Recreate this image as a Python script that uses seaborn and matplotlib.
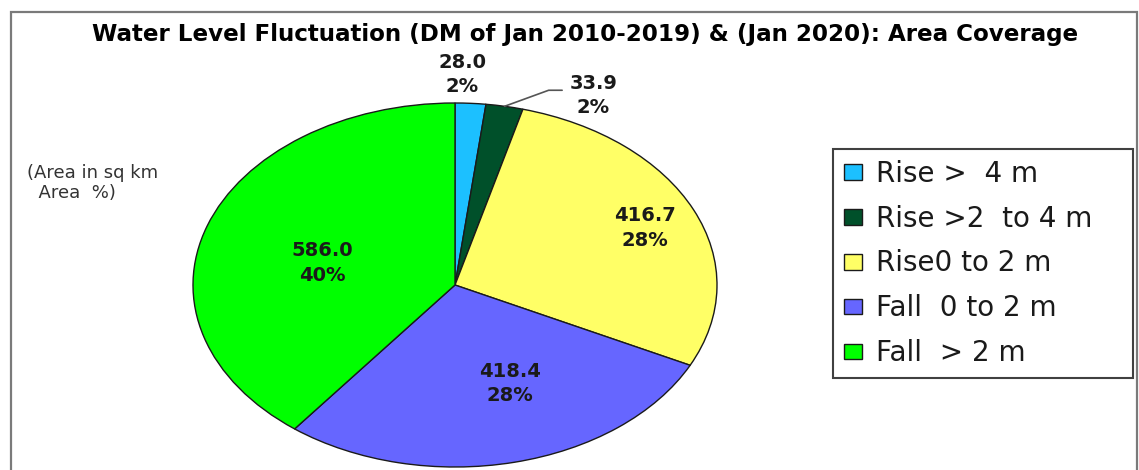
import numpy as np
import matplotlib
matplotlib.use("Agg")
import matplotlib.pyplot as plt
from matplotlib.patches import Rectangle
import seaborn as sns

# ---- data -------------------------------------------------------------
categories = ["Rise >  4 m", "Rise >2  to 4 m", "Rise0 to 2 m",
              "Fall  0 to 2 m", "Fall  > 2 m"]
area_sqkm = [28.0, 33.9, 416.7, 418.4, 586.0]
area_pct = [2, 2, 28, 28, 40]

title = "Water Level Fluctuation (DM of Jan 2010-2019) & (Jan 2020): Area Coverage"
unit_note = "(Area in sq km\n  Area  %)"

# ---- style ------------------------------------------------------------
colors = ["#1CC0FF", "#00502A", "#FFFF66", "#6666FF", "#00FF00"]
label_r = [1.155, 1.168, 0.79, 0.58, 0.52]          # radial position of labels
label_shift = [2.0, -16.0, -1.0, 8.3, 5.4]          # angular nudge (deg)

sns.set_theme(style="white")
plt.rcParams["font.family"] = ["DejaVu Sans"]

W, H = 1139, 470
fig = plt.figure(figsize=(W / 100, H / 100), dpi=100)
fig.patch.set_facecolor("white")


def fx(px):
    return px / W


def fy(py):
    return 1 - py / H


# outer frame
fig.add_artist(Rectangle((fx(11), fy(480)), fx(1137) - fx(11), fy(12) - fy(480),
                         transform=fig.transFigure, fill=False,
                         edgecolor="#7a7a7a", linewidth=1.6))

# pie drawn in a stretched axes so it renders as an ellipse
ax = fig.add_axes([fx(193), fy(467), fx(717) - fx(193), fy(103) - fy(467)])
wedges, _ = ax.pie(area_sqkm, colors=colors, startangle=90, counterclock=False,
                   wedgeprops=dict(edgecolor="#1a1a1a", linewidth=1.0))
for w in wedges:
    w.set_clip_on(False)
ax.set_aspect("auto")
ax.set_xlim(-1, 1)
ax.set_ylim(-1, 1)
ax.axis("off")

lab_kw = dict(ha="center", va="center", fontsize=14, fontweight="bold",
              color="#1a1a1a", multialignment="center", linespacing=1.35)
for i, w in enumerate(wedges):
    mid = np.deg2rad((w.theta1 + w.theta2) / 2 + label_shift[i])
    x, y = label_r[i] * np.cos(mid), label_r[i] * np.sin(mid)
    txt = f"{area_sqkm[i]:.1f}\n{area_pct[i]}%"
    if i == 1:
        mid0 = np.deg2rad((w.theta1 + w.theta2) / 2)
        ax.annotate(txt, xy=(np.cos(mid0), np.sin(mid0)), xytext=(x, y),
                    arrowprops=dict(arrowstyle="-", color="#555555", lw=1.2,
                                    relpos=(0, 0.62), shrinkA=3, shrinkB=0,
                                    connectionstyle="angle,angleA=180,angleB=20"),
                    **lab_kw)
    else:
        ax.text(x, y, txt, **lab_kw)

fig.text(fx(585), fy(35), title, ha="center", va="center",
         fontsize=16.6, fontweight="bold", color="black")
fig.text(fx(27), fy(183), unit_note, ha="left", va="center",
         fontsize=13, color="#333333", linespacing=1.1)

leg = fig.legend(wedges, categories, loc="upper left",
                 bbox_to_anchor=(fx(833), fy(377), fx(1133) - fx(833), fy(149) - fy(377)),
                 bbox_transform=fig.transFigure, mode="expand", borderaxespad=0,
                 fontsize=20, frameon=True, fancybox=False, shadow=False,
                 framealpha=1, edgecolor="#404040", borderpad=0.38,
                 labelspacing=0.61, handlelength=0.65, handleheight=0.5,
                 handletextpad=0.5)
leg.get_frame().set_linewidth(1.5)
for t in leg.get_texts():
    t.set_color("#1a1a1a")

fig.savefig("out.png", dpi=100)
